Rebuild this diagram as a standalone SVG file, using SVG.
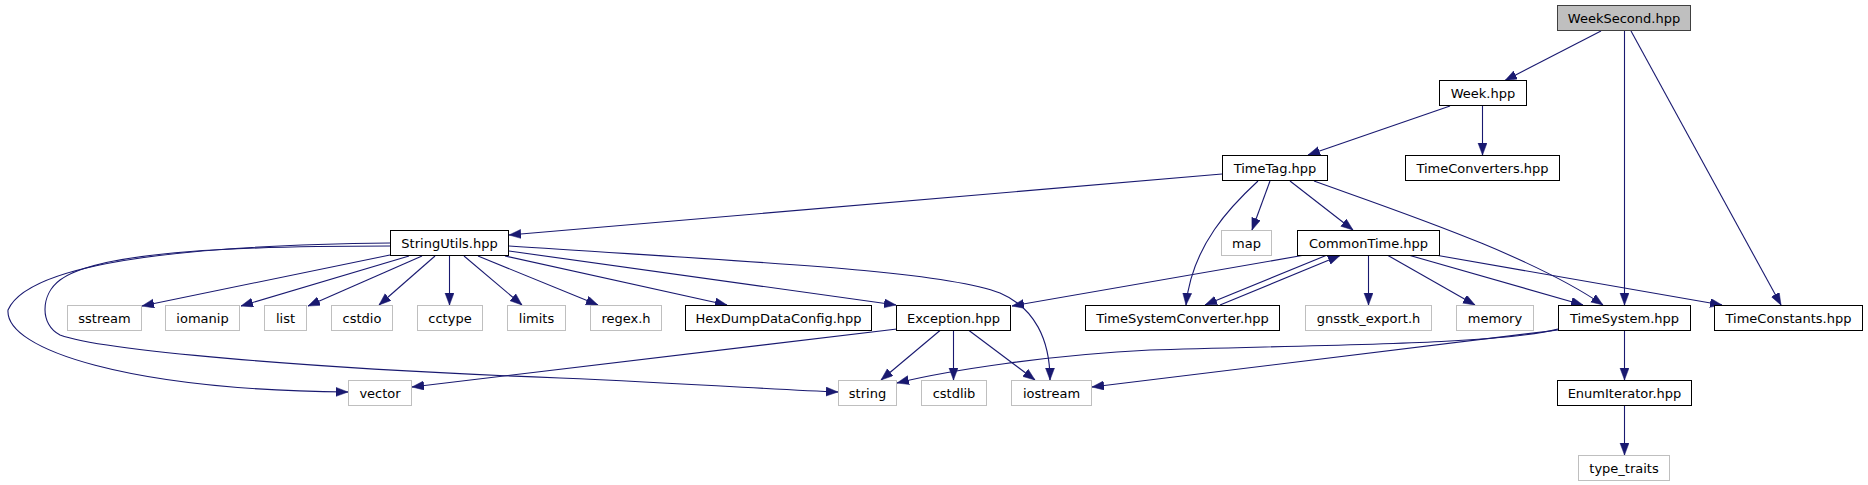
<svg xmlns="http://www.w3.org/2000/svg" width="1868" height="485" viewBox="0 0 1868 485">
<defs>
<style>
.n rect{fill:#ffffff;stroke:#000000;stroke-width:1}
.g rect{fill:#ffffff;stroke:#bfbfbf;stroke-width:1}
.r rect{fill:#bfbfbf;stroke:#404040;stroke-width:1}
text{font-family:"DejaVu Sans",sans-serif;font-size:13px;fill:#000000;text-anchor:middle}
#edges path{fill:none;stroke:#191970;stroke-width:1.1;marker-end:url(#arr)}
</style>
<marker id="arr" markerWidth="12" markerHeight="10" refX="12" refY="4.5" orient="auto" markerUnits="userSpaceOnUse">
<path d="M0,0 L12,4.5 L0,9 z" fill="#191970" stroke="#191970" stroke-width="0.5"/>
</marker>
</defs>
<rect x="0" y="0" width="1868" height="485" fill="#ffffff"/>
<g id="edges">
<path d="M1601,31 L1505,80.5"/>
<path d="M1624.5,31 L1624.5,305"/>
<path d="M1631,31 L1781,305"/>
<path d="M1450,106 L1308,155"/>
<path d="M1482.5,106 L1482.5,155"/>
<path d="M1222,174 L509,235"/>
<path d="M1258,181 C1232,205 1192,245 1186,305"/>
<path d="M1270,181 L1252,230"/>
<path d="M1290,181 L1353,230"/>
<path d="M1314,181 C1400,212 1530,255 1603,305"/>
<path d="M390,255 L142,306"/>
<path d="M409,256 L241,306"/>
<path d="M422,256 L308,306"/>
<path d="M435,256 L379,305"/>
<path d="M449.5,256 L449.5,305"/>
<path d="M464,256 L522,305"/>
<path d="M478,256 L598,305"/>
<path d="M505,256 L727,305"/>
<path d="M509,251 L896,305"/>
<path d="M509,246 C750,262 940,270 1000,293 C1035,308 1050,340 1050,380"/>
<path d="M390,243 C200,245 30,260 8,310 C5,350 130,390 348,392"/>
<path d="M390,246 C250,246 100,250 60,280 C40,295 40,325 60,335 C100,350 300,368 560,378 C700,384 780,390 838,392"/>
<path d="M1302,255.5 L1012,306"/>
<path d="M1326,255.5 L1205,305"/>
<path d="M1220,305 L1340,255.5"/>
<path d="M1368.5,255.5 L1368.5,305"/>
<path d="M1388,255.5 L1475,305"/>
<path d="M1410,255.5 L1583,305"/>
<path d="M1438,255.5 L1722,305"/>
<path d="M897,329 L412,387"/>
<path d="M940,330.5 L881,380"/>
<path d="M953.5,330.5 L953.5,380"/>
<path d="M969,330.5 L1035,380"/>
<path d="M1558,329 C1500,345 1300,345 1150,350 C1050,355 950,370 897,383"/>
<path d="M1558,330 L1092,387"/>
<path d="M1624.5,330.5 L1624.5,380"/>
<path d="M1624.5,405.5 L1624.5,455"/>
</g>
<g id="n_weeksecond" class="r"><rect x="1557.5" y="5.5" width="133" height="25"/><text x="1624" y="22.5">WeekSecond.hpp</text></g>
<g id="n_week" class="n"><rect x="1439.5" y="80.5" width="87" height="25"/><text x="1483" y="97.5">Week.hpp</text></g>
<g id="n_timetag" class="n"><rect x="1222.5" y="155.5" width="105" height="25"/><text x="1275" y="172.5">TimeTag.hpp</text></g>
<g id="n_timeconverters" class="n"><rect x="1405.5" y="155.5" width="154" height="25"/><text x="1482.5" y="172.5">TimeConverters.hpp</text></g>
<g id="n_stringutils" class="n"><rect x="390.5" y="230.5" width="118" height="25"/><text x="449.5" y="247.5">StringUtils.hpp</text></g>
<g id="n_map" class="g"><rect x="1221.5" y="230.5" width="50" height="25"/><text x="1246.5" y="247.5">map</text></g>
<g id="n_commontime" class="n"><rect x="1297.5" y="230.5" width="142" height="25"/><text x="1368.5" y="247.5">CommonTime.hpp</text></g>
<g id="n_sstream" class="g"><rect x="67.5" y="305.5" width="74" height="25"/><text x="104.5" y="322.5">sstream</text></g>
<g id="n_iomanip" class="g"><rect x="165.5" y="305.5" width="74" height="25"/><text x="202.5" y="322.5">iomanip</text></g>
<g id="n_list" class="g"><rect x="264.5" y="305.5" width="42" height="25"/><text x="285.5" y="322.5">list</text></g>
<g id="n_cstdio" class="g"><rect x="331.5" y="305.5" width="61" height="25"/><text x="362" y="322.5">cstdio</text></g>
<g id="n_cctype" class="g"><rect x="417.5" y="305.5" width="65" height="25"/><text x="450" y="322.5">cctype</text></g>
<g id="n_limits" class="g"><rect x="507.5" y="305.5" width="58" height="25"/><text x="536.5" y="322.5">limits</text></g>
<g id="n_regex" class="g"><rect x="590.5" y="305.5" width="71" height="25"/><text x="626" y="322.5">regex.h</text></g>
<g id="n_hexdump" class="n"><rect x="685.5" y="305.5" width="186" height="25"/><text x="778.5" y="322.5">HexDumpDataConfig.hpp</text></g>
<g id="n_exception" class="n"><rect x="896.5" y="305.5" width="114" height="25"/><text x="953.5" y="322.5">Exception.hpp</text></g>
<g id="n_tsc" class="n"><rect x="1085.5" y="305.5" width="194" height="25"/><text x="1182.5" y="322.5">TimeSystemConverter.hpp</text></g>
<g id="n_gnsstk" class="g"><rect x="1305.5" y="305.5" width="126" height="25"/><text x="1368.5" y="322.5">gnsstk_export.h</text></g>
<g id="n_memory" class="g"><rect x="1456.5" y="305.5" width="77" height="25"/><text x="1495" y="322.5">memory</text></g>
<g id="n_timesystem" class="n"><rect x="1558.5" y="305.5" width="132" height="25"/><text x="1624.5" y="322.5">TimeSystem.hpp</text></g>
<g id="n_timeconstants" class="n"><rect x="1714.5" y="305.5" width="148" height="25"/><text x="1788.5" y="322.5">TimeConstants.hpp</text></g>
<g id="n_vector" class="g"><rect x="348.5" y="380.5" width="63" height="25"/><text x="380" y="397.5">vector</text></g>
<g id="n_string" class="g"><rect x="838.5" y="380.5" width="58" height="25"/><text x="867.5" y="397.5">string</text></g>
<g id="n_cstdlib" class="g"><rect x="921.5" y="380.5" width="65" height="25"/><text x="954" y="397.5">cstdlib</text></g>
<g id="n_iostream" class="g"><rect x="1011.5" y="380.5" width="80" height="25"/><text x="1051.5" y="397.5">iostream</text></g>
<g id="n_enumiterator" class="n"><rect x="1557.5" y="380.5" width="134" height="25"/><text x="1624.5" y="397.5">EnumIterator.hpp</text></g>
<g id="n_typetraits" class="g"><rect x="1578.5" y="455.5" width="91" height="25"/><text x="1624" y="472.5">type_traits</text></g>
</svg>
